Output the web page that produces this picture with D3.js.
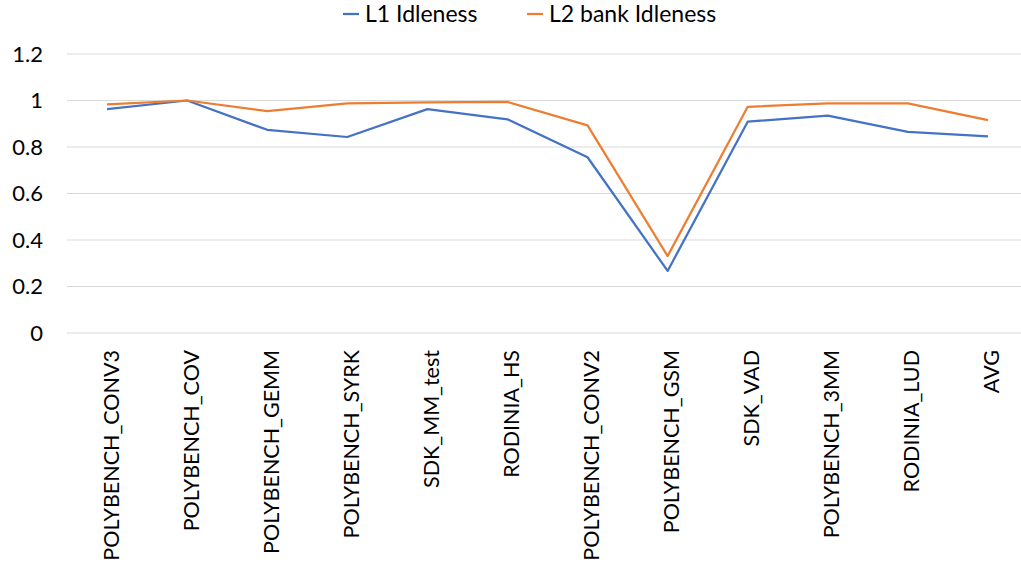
<!DOCTYPE html>
<html>
<head>
<meta charset="utf-8">
<script src="https://cdn.jsdelivr.net/npm/d3@7/dist/d3.min.js"></script>
<style>
  html, body { margin: 0; padding: 0; background: #fff; }
  svg { display: block; font-family: Lato, "Open Sans", sans-serif; }
</style>
</head>
<body>
<svg id="chart" width="1021" height="567"></svg>
<script>
// Benchmarks on the x axis
const categories = [
  "POLYBENCH_CONV3", "POLYBENCH_COV", "POLYBENCH_GEMM", "POLYBENCH_SYRK",
  "SDK_MM_test", "RODINIA_HS", "POLYBENCH_CONV2", "POLYBENCH_GSM",
  "SDK_VAD", "POLYBENCH_3MM", "RODINIA_LUD", "AVG"
];
// Idleness ratios per benchmark
const l1Idleness = [0.963, 1.0, 0.874, 0.843, 0.963, 0.919, 0.756, 0.267, 0.909, 0.935, 0.865, 0.846];
const l2BankIdleness = [0.983, 1.0, 0.954, 0.988, 0.992, 0.994, 0.893, 0.331, 0.973, 0.988, 0.988, 0.916];
const yTicks = [0, 0.2, 0.4, 0.6, 0.8, 1, 1.2];

const seriesNames = ["L1 Idleness", "L2 bank Idleness"];
const seriesColors = ["#4472C4", "#ED7D31"];
const seriesValues = [l1Idleness, l2BankIdleness];

const svg = d3.select("#chart");
const plot = { left: 67, right: 1028, top: 54, bottom: 333 };

const x = d3.scalePoint().domain(categories).range([plot.left, plot.right]).padding(0.5);
const y = d3.scaleLinear().domain([0, 1.2]).range([plot.bottom, plot.top]);

// Horizontal gridlines
svg.append("g")
  .selectAll("line")
  .data(yTicks)
  .join("line")
  .attr("x1", plot.left)
  .attr("x2", plot.right)
  .attr("y1", d => y(d))
  .attr("y2", d => y(d))
  .attr("stroke", "#d9d9d9")
  .attr("stroke-width", 1);

// Y axis labels
const yAxis = d3.axisLeft(y).tickValues(yTicks).tickSize(0).tickPadding(0).tickFormat(d3.format("~g"));
svg.append("g")
  .attr("transform", `translate(${plot.left - 24},0)`)
  .call(yAxis)
  .call(g => g.select(".domain").remove())
  .call(g => g.selectAll("text")
    .attr("font-family", "Lato, 'Open Sans', sans-serif")
    .attr("font-size", 22)
    .attr("fill", "#000"));

// X axis labels, rotated
const xAxis = d3.axisBottom(x).tickSize(0).tickPadding(0);
svg.append("g")
  .attr("transform", `translate(0,${plot.bottom})`)
  .call(xAxis)
  .call(g => g.select(".domain").remove())
  .call(g => g.selectAll("text")
    .attr("font-family", "Lato, 'Open Sans', sans-serif")
    .attr("font-size", 21.5)
    .attr("fill", "#000")
    .attr("text-anchor", "end")
    .attr("dy", 0)
    .attr("transform", "translate(11,17) rotate(-90)")
    .attr("x", 0)
    .attr("y", 0));

// Series lines
const line = d3.line().x((d, i) => x(categories[i])).y(d => y(d));
svg.append("g")
  .selectAll("path")
  .data(seriesValues)
  .join("path")
  .attr("d", d => line(d))
  .attr("fill", "none")
  .attr("stroke", (d, i) => seriesColors[i])
  .attr("stroke-width", 2.25)
  .attr("stroke-linejoin", "round");

// Legend
const legendItems = [
  { name: seriesNames[0], color: seriesColors[0], x: 343 },
  { name: seriesNames[1], color: seriesColors[1], x: 527 }
];
const legend = svg.append("g");
legendItems.forEach(it => {
  legend.append("line")
    .attr("x1", it.x).attr("x2", it.x + 16)
    .attr("y1", 14).attr("y2", 14)
    .attr("stroke", it.color).attr("stroke-width", 2.25);
  legend.append("text")
    .attr("x", it.x + 22).attr("y", 14)
    .attr("dy", "0.36em")
    .attr("font-size", 23)
    .attr("fill", "#000")
    .text(it.name);
});
</script>
</body>
</html>
